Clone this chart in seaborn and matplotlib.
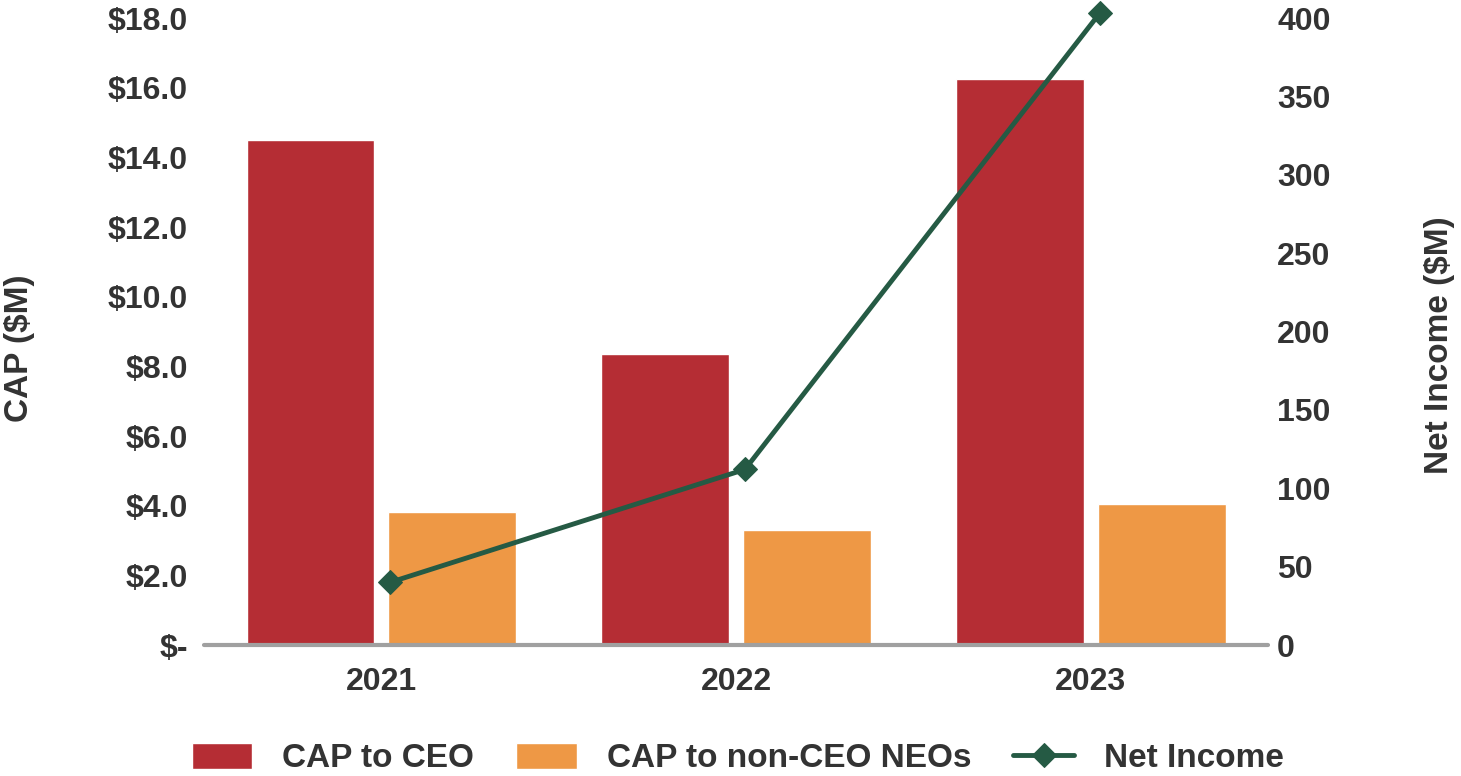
import numpy as np
import pandas as pd
import seaborn as sns
import matplotlib
matplotlib.use("Agg")
import matplotlib.pyplot as plt
from matplotlib.ticker import FuncFormatter, MultipleLocator

# data
years = ["2021", "2022", "2023"]
cap_ceo = [14.50, 8.35, 16.25]
cap_neo = [3.82, 3.30, 4.05]
net_income = [40, 112, 403]

series_names = ["CAP to CEO", "CAP to non-CEO NEOs"]
colors = {"CAP to CEO": "#B52D34", "CAP to non-CEO NEOs": "#EE9845"}
line_color = "#255A44"
text_color = "#333333"

sns.set_style("white")
plt.rcParams["font.family"] = ["Liberation Sans", "DejaVu Sans"]

bars_df = pd.DataFrame({
    "year": years * 2,
    "series": [series_names[0]] * 3 + [series_names[1]] * 3,
    "value": cap_ceo + cap_neo,
})
line_df = pd.DataFrame({"pos": np.arange(len(years)) + 0.025, "Net Income": net_income})

fig = plt.figure(figsize=(14.61, 7.76), dpi=100)
ax = fig.add_axes([0.1396, 0.1688, 0.868 - 0.1396, 0.9768 - 0.1688])

sns.barplot(data=bars_df, x="year", y="value", hue="series", palette=colors,
            width=0.8, gap=0.1, saturation=1, ax=ax)
h1, l1 = ax.get_legend_handles_labels()
if ax.get_legend() is not None:
    ax.get_legend().remove()

ax2 = ax.twinx()
sns.lineplot(data=line_df, x="pos", y="Net Income", color=line_color, lw=3.5,
             marker="D", markersize=12, markeredgecolor=line_color,
             label="Net Income", errorbar=None, ax=ax2, clip_on=False)
h2, l2 = ax2.get_legend_handles_labels()
if ax2.get_legend() is not None:
    ax2.get_legend().remove()

# left axis
ax.set_ylim(0, 18)
ax.yaxis.set_major_locator(MultipleLocator(2))
ax.yaxis.set_major_formatter(FuncFormatter(lambda v, p: "$-" if v == 0 else f"${v:.1f}"))
ax.set_xlim(-0.5, 2.5)
ax.set_xlabel("")
ax.set_ylabel("CAP ($M)", fontsize=24, fontweight="bold", color=text_color, va="center")
ax.yaxis.set_label_coords(-0.173, 0.474)
ax.tick_params(axis="y", length=0, pad=11.5, labelsize=23, labelcolor=text_color)
ax.tick_params(axis="x", length=0, pad=16, labelsize=23, labelcolor=text_color)
for lab in ax.get_xticklabels() + ax.get_yticklabels():
    lab.set_fontweight("bold")
for side in ["top", "right", "left"]:
    ax.spines[side].set_visible(False)
ax.spines["bottom"].set_color("#A0A0A0")
ax.spines["bottom"].set_linewidth(3)
ax.spines["bottom"].set_capstyle("round")

# right axis
ax2.set_ylim(0, 400)
ax2.yaxis.set_major_locator(MultipleLocator(50))
ax2.set_xlabel("")
ax2.set_ylabel("Net Income ($M)", fontsize=24, fontweight="bold", color=text_color, va="center")
ax2.yaxis.set_label_coords(1.161, 0.478)
ax2.tick_params(axis="y", length=0, pad=6.5, labelsize=23, labelcolor=text_color)
for lab in ax2.get_yticklabels():
    lab.set_fontweight("bold")
for side in ["top", "right", "left", "bottom"]:
    ax2.spines[side].set_visible(False)
ax.set_xlim(-0.5, 2.5)

fig.legend(h1 + h2, l1 + l2, loc="center", bbox_to_anchor=(0.505, 0.0226),
           ncol=3, frameon=False, prop={"size": 24, "weight": "bold"},
           labelcolor=text_color, handlelength=1.82, handleheight=0.85,
           handletextpad=0.9, columnspacing=1.26, borderaxespad=0)

fig.savefig("out.png", dpi=100)
